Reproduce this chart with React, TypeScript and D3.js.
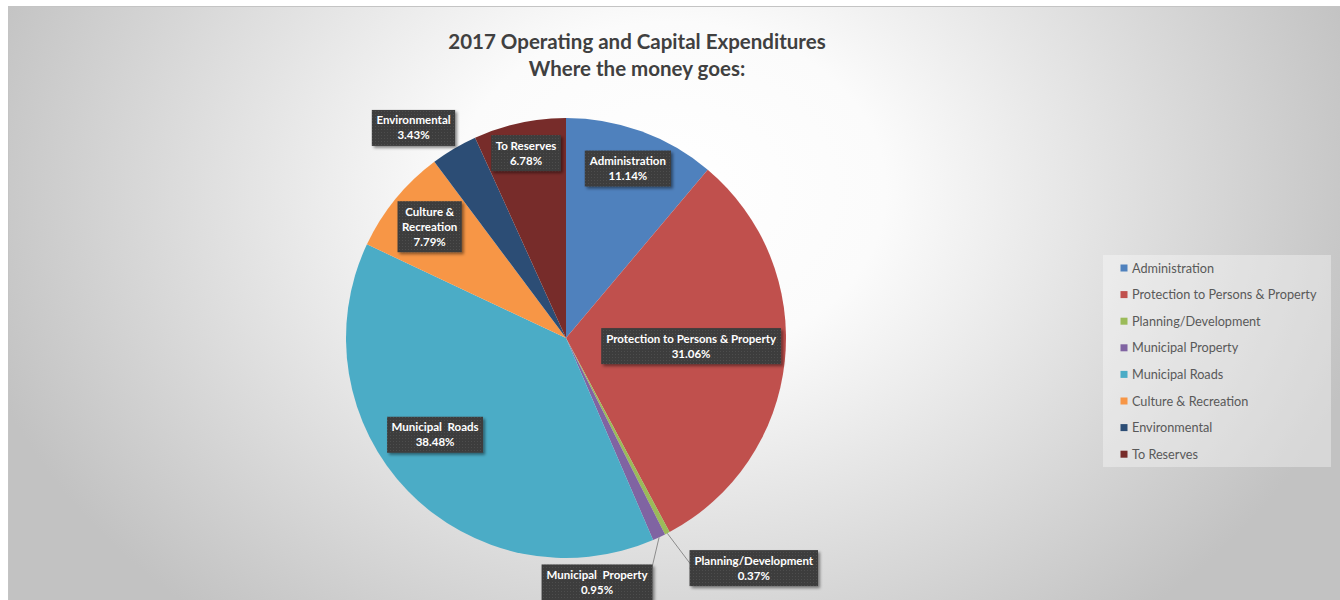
import React, { useEffect, useRef } from 'react';
import * as d3 from 'd3';

// slice order follows the chart, clockwise from 12 o'clock
const categories = [
  'Administration',
  'Protection to Persons & Property',
  'Planning/Development',
  'Municipal Property',
  'Municipal Roads',
  'Culture & Recreation',
  'Environmental',
  'To Reserves',
];
const shares = [11.14, 31.06, 0.37, 0.95, 38.48, 7.79, 3.43, 6.78];
const colors = ['#4F81BD', '#C0504D', '#9BBB59', '#8064A2', '#4BACC6', '#F79646', '#2C4D75', '#772C2A'];
// label text lines as Excel wrapped them
const labelLines = [
  ['Administration'],
  ['Protection to Persons & Property'],
  ['Planning/Development'],
  ['Municipal  Property'],
  ['Municipal  Roads'],
  ['Culture &', 'Recreation'],
  ['Environmental'],
  ['To Reserves'],
];
// where each label sits: radius as a fraction of the pie radius, angle shift in degrees
const labelRadius = [0.82, 0.57, 1.35, 1.12, 0.74, 0.8, 1.18, 0.86];
const labelShift = [0, -2.3, -11.8, 17.8, 7.6, 0, -5.4, 0];
const leaderLine = [false, false, true, true, false, false, false, false];

const titleLines = ['2017 Operating and Capital Expenditures', 'Where the money goes:'];

const W = 1340;
const H = 600;
const FONT = 'Lato, "Open Sans", sans-serif';

const App: React.FC = () => {
  const svgRef = useRef<SVGSVGElement>(null);

  useEffect(() => {
    if (!svgRef.current) return;
    const svg = d3.select(svgRef.current);
    svg.selectAll('*').remove();

    const defs = svg.append('defs');
    const grad = defs.append('radialGradient')
      .attr('id', 'bg')
      .attr('gradientUnits', 'userSpaceOnUse')
      .attr('cx', 0).attr('cy', 0).attr('r', 1)
      .attr('gradientTransform', 'translate(670,190) scale(720,560)');
    grad.append('stop').attr('offset', 0).attr('stop-color', '#ffffff');
    grad.append('stop').attr('offset', 0.3).attr('stop-color', '#fbfbfb');
    grad.append('stop').attr('offset', 1).attr('stop-color', '#c2c2c2');

    const pat = defs.append('pattern')
      .attr('id', 'dots')
      .attr('patternUnits', 'userSpaceOnUse')
      .attr('width', 3).attr('height', 3);
    pat.append('rect').attr('width', 3).attr('height', 3).attr('fill', '#3c3c3c');
    pat.append('rect').attr('x', 1).attr('y', 1).attr('width', 1).attr('height', 1).attr('fill', '#4e4e4e');

    const shadow = defs.append('filter').attr('id', 'shadow')
      .attr('x', '-20%').attr('y', '-30%').attr('width', '140%').attr('height', '160%');
    shadow.append('feDropShadow')
      .attr('dx', 2).attr('dy', 2).attr('stdDeviation', 1.5)
      .attr('flood-color', '#000').attr('flood-opacity', 0.45);

    // chart area
    svg.append('rect')
      .attr('x', 8.5).attr('y', 6.5)
      .attr('width', W).attr('height', H)
      .attr('fill', 'url(#bg)')
      .attr('stroke', '#c4c4c4');

    // title
    const title = svg.append('text')
      .attr('x', 637)
      .attr('text-anchor', 'middle')
      .attr('font-family', FONT)
      .attr('font-weight', 700)
      .attr('font-size', 20.5)
      .attr('fill', '#404040');
    titleLines.forEach((t, i) => {
      title.append('tspan').attr('x', 637).attr('y', 49 + i * 27).text(t);
    });

    // pie
    const cx = 566;
    const cy = 338;
    const radius = 220;
    const pie = d3.pie<number>().sort(null).value(d => d);
    const arcs = pie(shares);
    const arc = d3.arc<d3.PieArcDatum<number>>().innerRadius(0).outerRadius(radius);

    const g = svg.append('g').attr('transform', `translate(${cx},${cy})`);
    g.selectAll('path.slice')
      .data(arcs)
      .enter()
      .append('path')
      .attr('class', 'slice')
      .attr('d', arc)
      .attr('fill', (_, i) => colors[i]);

    // data labels
    const lineH = 15;
    arcs.forEach((a, i) => {
      const mid = (a.startAngle + a.endAngle) / 2 + (labelShift[i] * Math.PI) / 180;
      const r = radius * labelRadius[i];
      const lx = r * Math.sin(mid);
      const ly = -r * Math.cos(mid);
      const lines = [...labelLines[i], `${shares[i].toFixed(2)}%`];

      const lg = g.append('g');
      const rect = lg.append('rect').attr('fill', 'url(#dots)').attr('filter', 'url(#shadow)');
      const txt = lg.append('text')
        .attr('text-anchor', 'middle')
        .attr('font-family', FONT)
        .attr('font-weight', 700)
        .attr('font-size', 11.5)
        .attr('fill', '#ffffff')
        .style('white-space', 'pre');
      const top = ly - (lines.length * lineH) / 2;
      lines.forEach((t, k) => {
        txt.append('tspan')
          .attr('x', lx)
          .attr('y', top + k * lineH + 11.5)
          .text(t);
      });
      const tw = (txt.node() as SVGTextElement).getBBox().width;
      const bw = tw + 9;
      const bh = lines.length * lineH + 6;
      rect
        .attr('x', lx - bw / 2)
        .attr('y', ly - bh / 2)
        .attr('width', bw)
        .attr('height', bh);

      if (leaderLine[i]) {
        const am = (a.startAngle + a.endAngle) / 2;
        const ex = radius * Math.sin(am);
        const ey = -radius * Math.cos(am);
        const side = lx > ex ? -1 : 1;
        const edgeX = lx + side * bw / 2;
        const pts: [number, number][] = [[ex, ey], [edgeX - side * 4, ly], [edgeX, ly]];
        g.insert('path', () => lg.node())
          .attr('d', d3.line()(pts))
          .attr('fill', 'none')
          .attr('stroke', '#8c8c8c')
          .attr('stroke-width', 1);
      }
    });

    // legend
    const lgX = 1103;
    const lgY = 255;
    svg.append('rect')
      .attr('x', lgX).attr('y', lgY)
      .attr('width', 228).attr('height', 212)
      .attr('fill', '#ffffff').attr('fill-opacity', 0.35);
    const step = 26.6;
    const leg = svg.append('g');
    categories.forEach((c, i) => {
      const y = 268 + i * step;
      leg.append('rect')
        .attr('x', 1120.5).attr('y', y - 3.5)
        .attr('width', 7).attr('height', 7)
        .attr('fill', colors[i]);
      leg.append('text')
        .attr('x', 1132).attr('y', y + 4.5)
        .attr('font-family', FONT)
        .attr('font-size', 12.7)
        .attr('fill', '#595959')
        .text(c);
    });
  }, []);

  return (
    <svg
      ref={svgRef}
      width={W}
      height={H}
      style={{ position: 'absolute', left: 0, top: 0, display: 'block' }}
    />
  );
};

export default App;
